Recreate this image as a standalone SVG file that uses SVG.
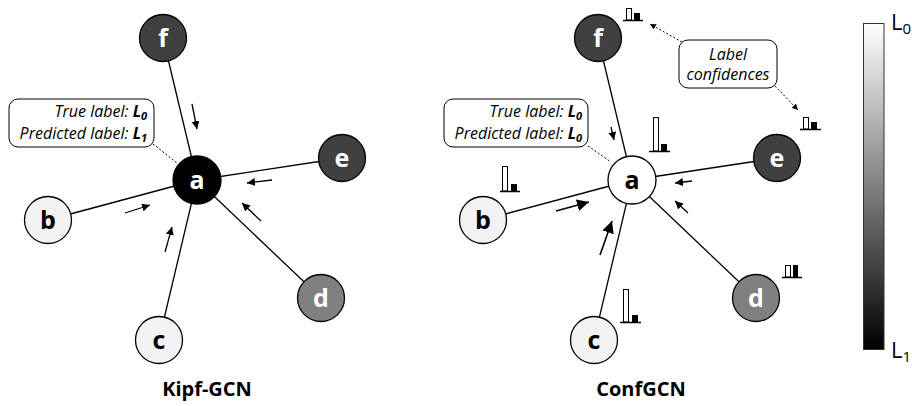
<svg xmlns="http://www.w3.org/2000/svg" width="912" height="406" viewBox="0 0 912 406">
<defs>
<style>
.edge{stroke:#000;stroke-width:1.3;fill:none}
.node{stroke:#000;stroke-width:1.3}
.lbl{font-family:"Open Sans","Noto Sans",sans-serif;font-weight:bold;font-size:25px;text-anchor:middle}
.call{fill:#fff;stroke:#000;stroke-width:1}
.ct{font-family:"Open Sans","Noto Sans",sans-serif;font-style:italic;font-size:16px;text-anchor:end}
.dot{stroke:#000;stroke-width:1;stroke-dasharray:2,2;fill:none}
.arr{stroke:#000;stroke-width:1.3;fill:none}
.arrB{stroke:#000;stroke-width:1.6;fill:none}
.title{font-family:"Open Sans","Noto Sans",sans-serif;font-weight:bold;font-size:20px;text-anchor:middle}
.wb{fill:#fff;stroke:#000;stroke-width:1}
.bb{fill:#000}
.ul{stroke:#000;stroke-width:1.5}
.cb{font-family:"Open Sans","Noto Sans",sans-serif;font-size:22px}
</style>
<marker id="ah" markerUnits="userSpaceOnUse" markerWidth="10" markerHeight="10" refX="8" refY="4" orient="auto">
<path d="M0,0 L8,4 L0,8 Z" fill="#000"/>
</marker>
<marker id="ahB" markerUnits="userSpaceOnUse" markerWidth="14" markerHeight="14" refX="12" refY="6" orient="auto">
<path d="M0,0 L12,6 L0,12 Z" fill="#000"/>
</marker>
<marker id="ahD" markerUnits="userSpaceOnUse" markerWidth="8" markerHeight="8" refX="6" refY="3" orient="auto">
<path d="M0,0 L6,3 L0,6 Z" fill="#000"/>
</marker>
<linearGradient id="grad" x1="0" y1="0" x2="0" y2="1">
<stop offset="0" stop-color="#ffffff"/>
<stop offset="1" stop-color="#000000"/>
</linearGradient>
</defs>

<g id="connectors">
<line class="edge" x1="197" y1="180" x2="163" y2="38"/>
<line class="edge" x1="197" y1="180" x2="342" y2="158"/>
<line class="edge" x1="197" y1="180" x2="48" y2="220"/>
<line class="edge" x1="197" y1="180" x2="159" y2="340"/>
<line class="edge" x1="197" y1="180" x2="321" y2="298"/>
<line class="edge" x1="632" y1="180" x2="598" y2="38"/>
<line class="edge" x1="632" y1="180" x2="777" y2="158"/>
<line class="edge" x1="632" y1="180" x2="483" y2="220"/>
<line class="edge" x1="632" y1="180" x2="594" y2="340"/>
<line class="edge" x1="632" y1="180" x2="756" y2="298"/>
<line class="dot" x1="153" y1="144" x2="177" y2="163"/>
<line class="dot" x1="588" y1="146" x2="611" y2="162"/>
<line class="dot" x1="682" y1="42" x2="650" y2="24" marker-end="url(#ahD)"/>
<line class="dot" x1="775" y1="86" x2="798" y2="110" marker-end="url(#ahD)"/>
<line class="arr" x1="192" y1="104" x2="197" y2="129" marker-end="url(#ah)"/>
<line class="arr" x1="272" y1="180" x2="247" y2="183" marker-end="url(#ah)"/>
<line class="arr" x1="261" y1="221" x2="242" y2="203" marker-end="url(#ah)"/>
<line class="arr" x1="125" y1="213" x2="150" y2="205" marker-end="url(#ah)"/>
<line class="arr" x1="165" y1="252" x2="172" y2="227" marker-end="url(#ah)"/>
<line class="arr" x1="611" y1="127" x2="614" y2="140" marker-end="url(#ah)"/>
<line class="arr" x1="692" y1="181" x2="675" y2="183" marker-end="url(#ah)"/>
<line class="arr" x1="688" y1="213" x2="675" y2="201" marker-end="url(#ah)"/>
<line class="arrB" x1="556" y1="211" x2="589" y2="202" marker-end="url(#ahB)"/>
<line class="arrB" x1="600" y1="255" x2="612" y2="221" marker-end="url(#ahB)"/>
</g>

<g id="L-f"><circle class="node" cx="163" cy="38" r="23.5" fill="#404040"/><text class="lbl" x="163" y="47" fill="#fff">f</text></g>
<g id="L-e"><circle class="node" cx="342" cy="158" r="23.5" fill="#404040"/><text class="lbl" x="342" y="167" fill="#fff">e</text></g>
<g id="L-d"><circle class="node" cx="321" cy="298" r="23.5" fill="#808080"/><text class="lbl" x="321" y="307" fill="#fff">d</text></g>
<g id="L-b"><circle class="node" cx="48" cy="220" r="23.5" fill="#f2f2f2"/><text class="lbl" x="48" y="229" fill="#000">b</text></g>
<g id="L-c"><circle class="node" cx="159" cy="340" r="23.5" fill="#f2f2f2"/><text class="lbl" x="159" y="349" fill="#000">c</text></g>
<g id="L-a"><circle class="node" cx="197" cy="180" r="24" fill="#000"/><text class="lbl" x="197" y="189" fill="#fff">a</text></g>
<g id="L-callout">
<rect class="call" x="9" y="99" width="145" height="48" rx="9"/>
<text class="ct" x="147" y="117">True label: <tspan font-weight="bold">L</tspan><tspan font-weight="bold" font-size="11" dy="3">0</tspan></text>
<text class="ct" x="147" y="139">Predicted label: <tspan font-weight="bold">L</tspan><tspan font-weight="bold" font-size="11" dy="3">1</tspan></text>
</g>
<text class="title" x="207" y="396">Kipf-GCN</text>

<g id="R-f"><circle class="node" cx="598" cy="38" r="23.5" fill="#404040"/><text class="lbl" x="598" y="47" fill="#fff">f</text></g>
<g id="R-e"><circle class="node" cx="777" cy="158" r="23.5" fill="#404040"/><text class="lbl" x="777" y="167" fill="#fff">e</text></g>
<g id="R-d"><circle class="node" cx="756" cy="298" r="23.5" fill="#808080"/><text class="lbl" x="756" y="307" fill="#fff">d</text></g>
<g id="R-b"><circle class="node" cx="483" cy="220" r="23.5" fill="#f2f2f2"/><text class="lbl" x="483" y="229" fill="#000">b</text></g>
<g id="R-c"><circle class="node" cx="594" cy="340" r="23.5" fill="#f2f2f2"/><text class="lbl" x="594" y="349" fill="#000">c</text></g>
<g id="R-a"><circle class="node" cx="632" cy="180" r="24" fill="#fff"/><text class="lbl" x="632" y="189" fill="#000">a</text></g>
<g id="R-callout">
<rect class="call" x="444" y="99" width="144" height="48" rx="9"/>
<text class="ct" x="582" y="117">True label: <tspan font-weight="bold">L</tspan><tspan font-weight="bold" font-size="11" dy="3">0</tspan></text>
<text class="ct" x="582" y="139">Predicted label: <tspan font-weight="bold">L</tspan><tspan font-weight="bold" font-size="11" dy="3">0</tspan></text>
</g>
<g id="conf-callout">
<rect class="call" x="679" y="40" width="98" height="48" rx="9"/>
<text class="ct" x="728" y="60" style="text-anchor:middle">Label</text>
<text class="ct" x="728" y="80" style="text-anchor:middle">confidences</text>
</g>
<text class="title" x="641" y="396">ConfGCN</text>

<g id="bar-f"><rect class="wb" x="626.5" y="8.5" width="5" height="11.5"/><rect class="bb" x="634" y="13" width="6" height="7"/><line class="ul" x1="623" y1="20.5" x2="643" y2="20.5"/></g>
<g id="bar-a"><rect class="wb" x="653.5" y="117.5" width="5" height="33.5"/><rect class="bb" x="661" y="144" width="6" height="7"/><line class="ul" x1="649" y1="151.5" x2="670" y2="151.5"/></g>
<g id="bar-b"><rect class="wb" x="502.5" y="166.5" width="5" height="24.5"/><rect class="bb" x="511" y="184" width="6" height="7"/><line class="ul" x1="500" y1="191.5" x2="520" y2="191.5"/></g>
<g id="bar-c"><rect class="wb" x="623.5" y="289.5" width="5" height="32.5"/><rect class="bb" x="632" y="315" width="6" height="7"/><line class="ul" x1="620" y1="322.5" x2="641" y2="322.5"/></g>
<g id="bar-e"><rect class="wb" x="803.5" y="117.5" width="5" height="11.5"/><rect class="bb" x="811" y="122" width="6" height="7"/><line class="ul" x1="800" y1="129.5" x2="821" y2="129.5"/></g>
<g id="bar-d"><rect class="wb" x="785.5" y="265.5" width="5" height="11.5"/><rect class="bb" x="793" y="265" width="5" height="12"/><line class="ul" x1="782" y1="277.5" x2="802" y2="277.5"/></g>

<g id="colorbar">
<rect x="863.5" y="23.5" width="20.5" height="326" fill="url(#grad)" stroke="#333" stroke-width="1"/>
<text class="cb" x="891" y="30">L<tspan font-size="15" dy="4">0</tspan></text>
<text class="cb" x="891" y="358">L<tspan font-size="15" dy="4">1</tspan></text>
</g>
</svg>
